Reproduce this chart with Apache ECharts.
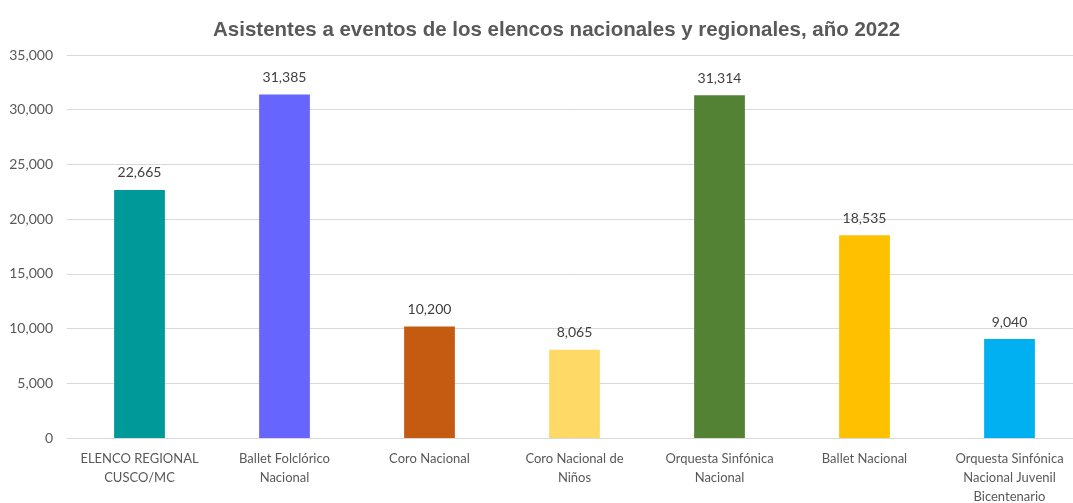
<!DOCTYPE html>
<html>
<head>
<meta charset="utf-8">
<script src="https://cdn.jsdelivr.net/npm/echarts@6/dist/echarts.min.js"></script>
<style>
    html, body { margin: 0; padding: 0; background: #fff; }
    #chart { width: 1073px; height: 503px; }
</style>
</head>
<body>
<div id="chart"></div>
<script>
    // categorías del eje x
    const categories = [
        "ELENCO REGIONAL\nCUSCO/MC",
        "Ballet Folclórico\nNacional",
        "Coro Nacional",
        "Coro Nacional de\nNiños",
        "Orquesta Sinfónica\nNacional",
        "Ballet Nacional",
        "Orquesta Sinfónica\nNacional Juvenil\nBicentenario"
    ];
    // asistentes
    const asistentes = [22665, 31385, 10200, 8065, 31314, 18535, 9040];
    const barColors = ["#009999", "#6666FF", "#C55A11", "#FFD966", "#548235", "#FFC000", "#00B0F0"];

    const chart = echarts.init(document.getElementById("chart"));
    const fmt = (v) => v.toLocaleString("en-US");

    chart.setOption({
        animation: false,
        title: {
            text: "Asistentes a eventos de los elencos nacionales y regionales, año 2022",
            left: 208,
            top: 15,
            textStyle: {
                fontFamily: "Liberation Sans",
                fontSize: 20.5,
                fontWeight: "bold",
                color: "#595959"
            }
        },
        grid: { left: 67, right: -9, top: 55, bottom: 65, outerBoundsMode: "none", containLabel: false },
        xAxis: {
            type: "category",
            data: categories,
            axisLine: { lineStyle: { color: "#d9d9d9" } },
            axisTick: { show: false },
            axisLabel: {
                interval: 0,
                margin: 11,
                fontFamily: "Lato",
                fontSize: 13,
                lineHeight: 19,
                color: "#595959"
            }
        },
        yAxis: {
            type: "value",
            min: 0,
            max: 35000,
            interval: 5000,
            axisLine: { show: false },
            axisTick: { show: false },
            splitLine: { lineStyle: { color: "#d9d9d9" } },
            axisLabel: {
                margin: 14,
                fontFamily: "Lato",
                fontSize: 14,
                color: "#595959",
                formatter: fmt
            }
        },
        series: [{
            type: "bar",
            barWidth: "35%",
            data: asistentes.map((v, i) => ({ value: v, itemStyle: { color: barColors[i] } })),
            label: {
                show: true,
                position: "top",
                distance: 10,
                fontFamily: "Lato",
                fontSize: 14,
                color: "#404040",
                formatter: (p) => fmt(p.value)
            }
        }]
    });
</script>
</body>
</html>
